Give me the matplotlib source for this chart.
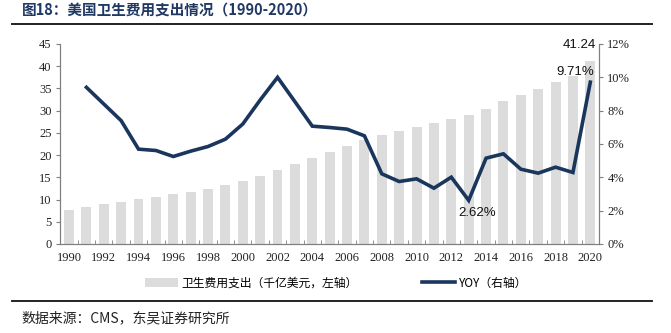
import numpy as np
import matplotlib
matplotlib.use("Agg")
import matplotlib.pyplot as plt
from matplotlib.lines import Line2D
from matplotlib.patches import Patch

# 数据
years = list(range(1990, 2021))
spend = [7.56, 8.23, 8.98, 9.50, 10.10, 10.60, 11.15, 11.75, 12.40, 13.20,
         14.07, 15.30, 16.70, 18.10, 19.40, 20.70, 22.10, 23.40, 24.50, 25.40,
         26.30, 27.20, 28.20, 29.00, 30.40, 32.10, 33.50, 34.90, 36.50, 37.70,
         41.24]
yoy = [None, 9.40, 8.40, 7.40, 5.69, 5.61, 5.25, 5.57, 5.85, 6.29,
       7.20, 8.64, 10.00, 8.54, 7.07, 6.99, 6.89, 6.49, 4.21, 3.75,
       3.91, 3.35, 4.01, 2.62, 5.15, 5.41, 4.49, 4.25, 4.61, 4.29,
       9.71]
xlabels = [str(y) if y % 2 == 0 else "" for y in years]

serif = ["Liberation Serif", "Noto Sans CJK SC"]
cjk = ["Noto Sans CJK SC", "DejaVu Sans"]
navy = "#1b365d"
grey = "#dcdcdc"
axc = "#7f7f7f"

fig = plt.figure(figsize=(6.71, 3.33), dpi=100)
ax = fig.add_axes([60/671, 1-244/333, (599-60)/671, 200/333])
ax2 = ax.twinx()

x = np.arange(len(years))
ax.bar(x, spend, width=0.57, color=grey, zorder=1)
xs = [i for i, v in enumerate(yoy) if v is not None]
ys = [v/100 for v in yoy if v is not None]
ax2.plot(xs, ys, color=navy, lw=2.6, solid_joinstyle="miter")

ax.set_xlim(-0.52, 30.46)
ax.set_ylim(0, 45)
ax.set_yticks(range(0, 46, 5))
ax2.set_ylim(0, 0.12)
ax2.set_yticks(np.arange(0, 0.121, 0.02))
ax2.set_yticklabels([f"{int(round(v*100))}%" for v in np.arange(0, 0.121, 0.02)])

ax.set_xticks(x)
ax.set_xticklabels(xlabels)
ax.set_xticks(np.arange(-0.5, 31, 1), minor=True)
ax.tick_params(axis="x", which="major", length=0, pad=6)
ax.tick_params(axis="x", which="minor", length=3, direction="in", color=axc)
ax.tick_params(axis="y", length=3, color=axc, pad=3)
ax2.tick_params(axis="y", length=3, color=axc, pad=3)

for a in (ax, ax2):
    a.spines["top"].set_visible(False)
    for s in ("left", "right", "bottom"):
        a.spines[s].set_color(axc)
        a.spines[s].set_linewidth(0.8)
    for lab in a.get_xticklabels() + a.get_yticklabels():
        lab.set_family(serif)
        lab.set_fontsize(9)
        lab.set_color("#222222")

# 标注
ax.text(30.3, 44.8, "41.24", ha="right", va="center",
        family="Liberation Sans", fontsize=9.5, color="#111111")
ax2.text(30.2, 0.103, "9.71%", ha="right", va="center",
         family="Liberation Sans", fontsize=9.5, color="#111111")
ax2.text(23.5, yoy[23]/100 - 0.004, "2.62%", ha="center", va="top",
         family="Liberation Sans", fontsize=9.5, color="#111111")

handles = [Patch(facecolor=grey, edgecolor="none"),
           Line2D([0], [0], color=navy, lw=2.6)]
leg = fig.legend(handles, ["卫生费用支出（千亿美元，左轴）", "YOY（右轴）"],
                 loc="center", bbox_to_anchor=(336/671, 1-283/333), ncol=2,
                 frameon=False, handlelength=2.8, handleheight=0.9,
                 columnspacing=5.4, handletextpad=0.35,
                 prop={"family": cjk, "size": 8.5})

# 标题和来源
fig.text(22/671, 1-11/333, "图18：美国卫生费用支出情况（1990-2020）",
         family=cjk, fontsize=10.5, fontweight="bold", color="#1f3864",
         va="center", ha="left")
fig.add_artist(Line2D([12/671, 652/671], [1-24/333, 1-24/333], color="#222222", lw=1.4))
fig.add_artist(Line2D([12/671, 652/671], [1-301/333, 1-301/333], color="#222222", lw=1.4))
fig.text(21/671, 1-318/333, "数据来源：CMS，东吴证券研究所",
         family=cjk, fontsize=10, color="#222222", va="center", ha="left")

fig.savefig("out.png", dpi=100)
